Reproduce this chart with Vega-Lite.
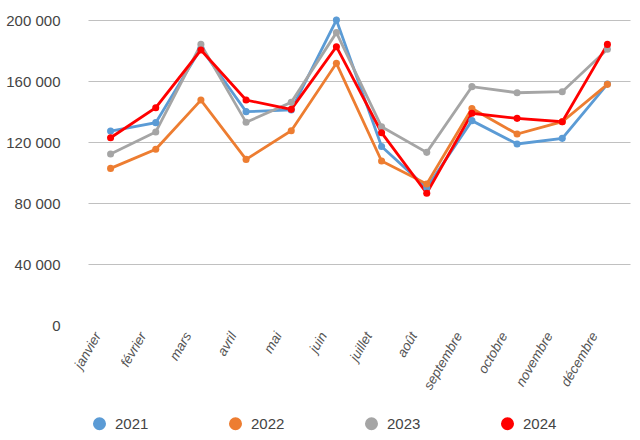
{
  "$schema": "https://vega.github.io/schema/vega-lite/v6.json",
  "width": 577,
  "height": 305,
  "padding": {"left": 63, "top": 20, "right": 0, "bottom": 115},
  "autosize": {"type": "none"},
  "config": {
    "view": {"stroke": null},
    "locale": {"number": {"decimal": ",", "thousands": " ", "grouping": [3], "currency": ["", " €"]}},
    "font": "Liberation Sans"
  },
  "data": {
    "values": [
      {"mois": "janvier", "m": 1, "annee": "2021", "v": 127200},
      {"mois": "février", "m": 2, "annee": "2021", "v": 132700},
      {"mois": "mars", "m": 3, "annee": "2021", "v": 181500},
      {"mois": "avril", "m": 4, "annee": "2021", "v": 139900},
      {"mois": "mai", "m": 5, "annee": "2021", "v": 141000},
      {"mois": "juin", "m": 6, "annee": "2021", "v": 200000},
      {"mois": "juillet", "m": 7, "annee": "2021", "v": 117000},
      {"mois": "août", "m": 8, "annee": "2021", "v": 90000},
      {"mois": "septembre", "m": 9, "annee": "2021", "v": 134000},
      {"mois": "octobre", "m": 10, "annee": "2021", "v": 118700},
      {"mois": "novembre", "m": 11, "annee": "2021", "v": 122400},
      {"mois": "décembre", "m": 12, "annee": "2021", "v": 158000},
      {"mois": "janvier", "m": 1, "annee": "2022", "v": 102700},
      {"mois": "février", "m": 2, "annee": "2022", "v": 115200},
      {"mois": "mars", "m": 3, "annee": "2022", "v": 147500},
      {"mois": "avril", "m": 4, "annee": "2022", "v": 108600},
      {"mois": "mai", "m": 5, "annee": "2022", "v": 127400},
      {"mois": "juin", "m": 6, "annee": "2022", "v": 171600},
      {"mois": "juillet", "m": 7, "annee": "2022", "v": 107500},
      {"mois": "août", "m": 8, "annee": "2022", "v": 92500},
      {"mois": "septembre", "m": 9, "annee": "2022", "v": 142000},
      {"mois": "octobre", "m": 10, "annee": "2022", "v": 125200},
      {"mois": "novembre", "m": 11, "annee": "2022", "v": 133300},
      {"mois": "décembre", "m": 12, "annee": "2022", "v": 157800},
      {"mois": "janvier", "m": 1, "annee": "2023", "v": 112100},
      {"mois": "février", "m": 2, "annee": "2023", "v": 126600},
      {"mois": "mars", "m": 3, "annee": "2023", "v": 184000},
      {"mois": "avril", "m": 4, "annee": "2023", "v": 132900},
      {"mois": "mai", "m": 5, "annee": "2023", "v": 146000},
      {"mois": "juin", "m": 6, "annee": "2023", "v": 191700},
      {"mois": "juillet", "m": 7, "annee": "2023", "v": 130000},
      {"mois": "août", "m": 8, "annee": "2023", "v": 113200},
      {"mois": "septembre", "m": 9, "annee": "2023", "v": 156300},
      {"mois": "octobre", "m": 10, "annee": "2023", "v": 152300},
      {"mois": "novembre", "m": 11, "annee": "2023", "v": 153000},
      {"mois": "décembre", "m": 12, "annee": "2023", "v": 180800},
      {"mois": "janvier", "m": 1, "annee": "2024", "v": 122800},
      {"mois": "février", "m": 2, "annee": "2024", "v": 142500},
      {"mois": "mars", "m": 3, "annee": "2024", "v": 180300},
      {"mois": "avril", "m": 4, "annee": "2024", "v": 147500},
      {"mois": "mai", "m": 5, "annee": "2024", "v": 141400},
      {"mois": "juin", "m": 6, "annee": "2024", "v": 182500},
      {"mois": "juillet", "m": 7, "annee": "2024", "v": 126100},
      {"mois": "août", "m": 8, "annee": "2024", "v": 86400},
      {"mois": "septembre", "m": 9, "annee": "2024", "v": 138800},
      {"mois": "octobre", "m": 10, "annee": "2024", "v": 135500},
      {"mois": "novembre", "m": 11, "annee": "2024", "v": 133300},
      {"mois": "décembre", "m": 12, "annee": "2024", "v": 184000}
    ]
  },
  "encoding": {
    "x": {
      "field": "mois",
      "type": "ordinal",
      "sort": ["janvier", "février", "mars", "avril", "mai", "juin", "juillet", "août", "septembre", "octobre", "novembre", "décembre"],
      "scale": {"type": "point", "range": [25, 567]},
      "axis": {
        "title": null,
        "domain": false,
        "ticks": false,
        "grid": false,
        "labelAngle": -60,
        "labelAlign": "right",
        "labelBaseline": "middle",
        "labelFontStyle": "italic",
        "labelFontSize": 13.5,
        "labelColor": "#555555",
        "labelPadding": 8,
        "labelOffset": -13
      }
    },
    "y": {
      "field": "v",
      "type": "quantitative",
      "scale": {"domain": [0, 200000], "nice": false},
      "axis": {
        "title": null,
        "domain": false,
        "ticks": false,
        "values": [0, 40000, 80000, 120000, 160000, 200000],
        "format": ",d",
        "labelFontSize": 15,
        "labelColor": "#444444",
        "labelPadding": 3,
        "gridColor": {"condition": {"test": "datum.value === 0", "value": "transparent"}, "value": "#c0c0c0"},
        "gridWidth": 1.2
      }
    },
    "color": {
      "field": "annee",
      "type": "nominal",
      "scale": {"domain": ["2021", "2022", "2023", "2024"], "range": ["#5B9BD5", "#ED7D31", "#A5A5A5", "#FF0000"]},
      "legend": {
        "title": null,
        "orient": "none",
        "legendX": 29,
        "legendY": 396,
        "direction": "horizontal",
        "columnPadding": 79,
        "symbolType": "circle",
        "symbolSize": 170,
        "symbolStrokeWidth": 0,
        "labelFontSize": 15,
        "labelColor": "#444444",
        "labelOffset": 8
      }
    },
    "order": {"field": "annee"}
  },
  "layer": [
    {"mark": {"type": "line", "strokeWidth": 2.8}, "encoding": {"detail": {"field": "annee"}}},
    {"mark": {"type": "circle", "size": 50, "opacity": 1}}
  ]
}
